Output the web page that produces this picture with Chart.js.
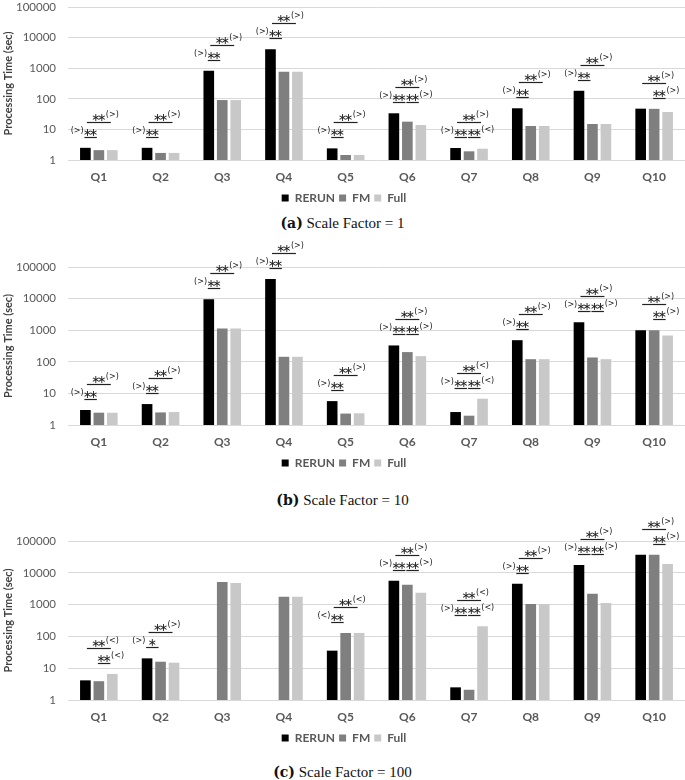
<!DOCTYPE html>
<html>
<head>
<meta charset="utf-8">
<script src="https://cdn.jsdelivr.net/npm/chart.js@4.4.1/dist/chart.umd.min.js"></script>
<style>
  body { margin: 0; background: #fff; width: 685px; height: 780px; position: relative; overflow: hidden; }
  .box { position: absolute; left: 0; width: 685px; }
  .cap { position: absolute; left: 0; width: 685px; text-align: center; font-family: "Liberation Serif"; font-size: 15px; line-height: 18px; color: #111; }
  .cap b { font-family: "DejaVu Serif"; font-size: 14px; }
</style>
</head>
<body>
<div class="box" style="top:-12px;height:226px"><canvas id="chartA"></canvas></div>
<div class="cap" style="top:214px"><b>(a)</b> Scale Factor = 1</div>
<div class="box" style="top:240px;height:239px"><canvas id="chartB"></canvas></div>
<div class="cap" style="top:491px"><b>(b)</b> Scale Factor = 10</div>
<div class="box" style="top:505px;height:249px"><canvas id="chartC"></canvas></div>
<div class="cap" style="top:763px"><b>(c)</b> Scale Factor = 100</div>
<script>
const categories = ["Q1", "Q2", "Q3", "Q4", "Q5", "Q6", "Q7", "Q8", "Q9", "Q10"];
const yTicks = [1, 10, 100, 1000, 10000, 100000];

// scale factor 1
const rerunSF1 = [2.5, 2.5, 830, 4150, 2.4, 33.6, 2.47, 49, 183, 47.6];
const fmSF1 = [2.1, 1.7, 91, 770, 1.46, 17.9, 1.92, 12.9, 15, 47];
const fullSF1 = [2.1, 1.7, 91, 770, 1.46, 13.9, 2.34, 12.9, 15, 37];

// scale factor 10
const rerunSF10 = [2.98, 4.6, 9500, 41700, 5.7, 329, 2.57, 483, 1790, 1000];
const fmSF10 = [2.45, 2.5, 1130, 144, 2.3, 203, 1.97, 121, 137, 1000];
const fullSF10 = [2.45, 2.57, 1130, 144, 2.35, 151, 6.8, 121, 121, 680];

// scale factor 100 (RERUN missing for Q3, Q4)
const rerunSF100 = [4.15, 20.4, null, null, 35.6, 5650, 2.5, 4560, 17600, 37100];
const fmSF100 = [3.9, 16, 5130, 1780, 128, 4230, 2.1, 1040, 2200, 37100];
const fullSF100 = [6.6, 14.9, 4780, 1780, 128, 2370, 208, 1040, 1120, 19000];

// significance marks per query: [bar a, bar b, stars, direction]
const marksSF1 = [
  [[0, 1, "**", ">"], [0, 2, "**", ">"]],
  [[0, 1, "**", ">"], [0, 2, "**", ">"]],
  [[0, 1, "**", ">"], [0, 2, "**", ">"]],
  [[0, 1, "**", ">"], [0, 2, "**", ">"]],
  [[0, 1, "**", ">"], [0, 2, "**", ">"]],
  [[0, 1, "**", ">"], [1, 2, "**", ">"], [0, 2, "**", ">"]],
  [[0, 1, "**", ">"], [1, 2, "**", "<"], [0, 2, "**", ">"]],
  [[0, 1, "**", ">"], [0, 2, "**", ">"]],
  [[0, 1, "**", ">"], [0, 2, "**", ">"]],
  [[1, 2, "**", ">"], [0, 2, "**", ">"]]
];
const marksSF10 = [
  [[0, 1, "**", ">"], [0, 2, "**", ">"]],
  [[0, 1, "**", ">"], [0, 2, "**", ">"]],
  [[0, 1, "**", ">"], [0, 2, "**", ">"]],
  [[0, 1, "**", ">"], [0, 2, "**", ">"]],
  [[0, 1, "**", ">"], [0, 2, "**", ">"]],
  [[0, 1, "**", ">"], [1, 2, "**", ">"], [0, 2, "**", ">"]],
  [[0, 1, "**", ">"], [1, 2, "**", "<"], [0, 2, "**", "<"]],
  [[0, 1, "**", ">"], [0, 2, "**", ">"]],
  [[0, 1, "**", ">"], [1, 2, "**", ">"], [0, 2, "**", ">"]],
  [[1, 2, "**", ">"], [0, 2, "**", ">"]]
];
const marksSF100 = [
  [[1, 2, "**", "<"], [0, 2, "**", "<"]],
  [[0, 1, "*", ">"], [0, 2, "**", ">"]],
  [],
  [],
  [[0, 1, "**", "<"], [0, 2, "**", "<"]],
  [[0, 1, "**", ">"], [1, 2, "**", ">"], [0, 2, "**", ">"]],
  [[0, 1, "**", ">"], [1, 2, "**", "<"], [0, 2, "**", "<"]],
  [[0, 1, "**", ">"], [0, 2, "**", ">"]],
  [[0, 1, "**", ">"], [1, 2, "**", ">"], [0, 2, "**", ">"]],
  [[1, 2, "**", ">"], [0, 2, "**", ">"]]
];

Chart.defaults.font.family = "Lato";
Chart.defaults.color = "#595959";

const sigPlugin = {
  id: "sig",
  afterDatasetsDraw(chart, args, opts) {
    const marks = opts.marks;
    if (!marks) return;
    const ctx = chart.ctx;
    const yScale = chart.scales.y;
    ctx.save();
    ctx.strokeStyle = "#222";
    ctx.fillStyle = "#222";
    ctx.lineWidth = 1.2;
    marks.forEach((list, k) => {
      if (!list.length) return;
      let top = Infinity;
      chart.data.datasets.forEach((ds) => {
        const v = ds.data[k];
        if (v != null) top = Math.min(top, yScale.getPixelForValue(v));
      });
      list.forEach(([a, b, stars, sign]) => {
        const xa = chart.getDatasetMeta(a).data[k].x;
        const xb = chart.getDatasetMeta(b).data[k].x;
        const wide = b - a === 2;
        const ly = Math.round(top - (wide ? 26 : 11)) + 0.5;
        // short lines stop before the shared middle bar so pairs stay apart
        const x0 = wide ? xa + 1.5 : xa - 1;
        const x1 = wide ? xb - 1.5 : xb - 2;
        ctx.beginPath();
        ctx.moveTo(x0, ly);
        ctx.lineTo(x1, ly);
        ctx.stroke();
        const mid = (x0 + x1) / 2;
        const n = stars.length;
        ctx.font = "11px 'DejaVu Sans'";
        ctx.textAlign = "center";
        ctx.textBaseline = "alphabetic";
        for (let i = 0; i < n; i++) {
          ctx.fillText("\u2217", mid + (i - (n - 1) / 2) * 6, ly - 1.5);
        }
        const half = n * 3;
        ctx.font = "8px 'DejaVu Sans'";
        if (a === 0 && b === 1) {
          ctx.textAlign = "right";
          ctx.fillText("(" + sign + ")", mid - half - (n === 1 ? 4 : 1), ly - 5);
        } else {
          ctx.textAlign = "left";
          ctx.fillText("(" + sign + ")", mid + half + 1, ly - 6);
        }
      });
    });
    ctx.restore();
  }
};

function makeChart(id, rerun, fm, full, marks, padTop) {
  return new Chart(document.getElementById(id), {
    type: "bar",
    data: {
      labels: categories,
      datasets: [
        { label: "RERUN", data: rerun, backgroundColor: "#000000" },
        { label: "FM", data: fm, backgroundColor: "#7f7f7f" },
        { label: "Full", data: full, backgroundColor: "#c8c8c8" }
      ]
    },
    options: {
      responsive: true,
      maintainAspectRatio: false,
      animation: false,
      categoryPercentage: 0.655,
      barPercentage: 0.79,
      layout: { padding: { top: padTop, left: 0, right: -3, bottom: 0 } },
      scales: {
        x: {
          grid: { display: false, drawTicks: false },
          border: { display: false },
          ticks: { padding: 10, font: { size: 12, weight: "bold" }, color: "#595959" },
          afterFit: (scale) => {
            scale.height = 28;
          }
        },
        y: {
          type: "logarithmic",
          min: 1,
          max: 100000,
          afterBuildTicks: (scale) => {
            scale.ticks = yTicks.map((v) => ({ value: v }));
          },
          afterFit: (scale) => {
            scale.width = 68;
          },
          ticks: { padding: 12, font: { size: 11.5 }, color: "#595959", callback: (v) => String(v) },
          grid: { color: "#d9d9d9", drawTicks: false },
          border: { display: false },
          title: { display: true, text: "Processing Time (sec)", font: { size: 11, weight: "bold" }, color: "#404040", padding: 2 }
        }
      },
      plugins: {
        legend: {
          position: "bottom",
          labels: { boxWidth: 7, boxHeight: 7, padding: 4, font: { size: 12, weight: "bold" }, color: "#595959" }
        },
        tooltip: { enabled: false },
        sig: { marks: marks }
      }
    },
    plugins: [sigPlugin]
  });
}

makeChart("chartA", rerunSF1, fmSF1, fullSF1, marksSF1, 19);
makeChart("chartB", rerunSF10, fmSF10, fullSF10, marksSF10, 27);
makeChart("chartC", rerunSF100, fmSF100, fullSF100, marksSF100, 36);
</script>
</body>
</html>
